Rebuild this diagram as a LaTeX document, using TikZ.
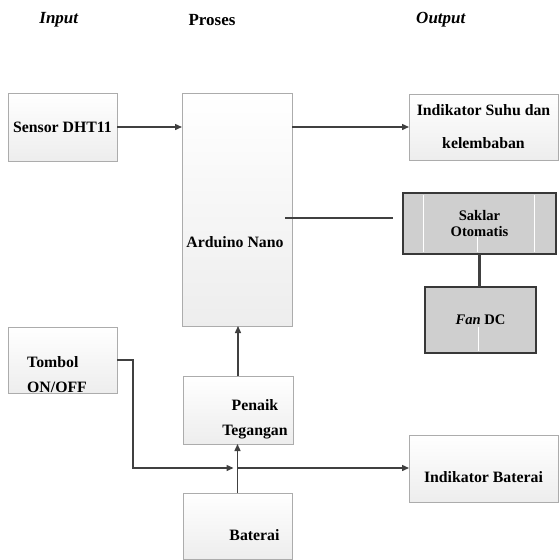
\documentclass[tikz,border=0pt]{standalone}
\usepackage{fontspec}
\setmainfont{Liberation Serif}
\usetikzlibrary{arrows.meta,shadows}

\begin{document}
\begin{tikzpicture}[
        x=1pt, y=-1pt,
        blok/.style={rectangle, draw=gray!65, line width=0.9pt, top color=white, bottom color=gray!14, anchor=north west, inner sep=0pt, outer sep=0pt, font=\fontsize{15.8}{25}\selectfont\bfseries, drop shadow={shadow xshift=1.2pt, shadow yshift=-1.2pt, fill=gray!70, opacity=0.5}},
        gelap/.style={rectangle, draw=black!78, line width=2.5pt, fill=gray!38, anchor=north west, inner sep=0pt, outer sep=0pt, font=\fontsize{14.6}{16.5}\selectfont\bfseries},
        teks/.style={font=\fontsize{15.8}{25}\selectfont\bfseries, inner sep=0pt, align=center},
        judul/.style={font=\fontsize{17}{20}\selectfont\bfseries},
        arrow/.style={-{Triangle[length=7pt,width=6pt]}, line width=1.4pt, gray!50!black},
        garis/.style={line width=2.5pt, black!75},
        celah/.style={white, line width=0.8pt}
    ]
    \useasboundingbox (0,0) rectangle (560,560);

    % Judul kolom
    \node[judul] (jin) at (59,20) {\textit{Input}};
    \node[judul] (jpro) at (212,20) {Proses};
    \node[judul] (jout) at (441,20) {\textit{Output}};

    % Input
    \node[blok, minimum width=109pt, minimum height=68pt] (sensor) at (8,93) {Sensor DHT11};
    \node[blok, minimum width=109pt, minimum height=66pt, label={[teks, align=left, anchor=west, xshift=19pt, yshift=-15pt]west:Tombol\\ON/OFF}] (tombol) at (8,327) {};

    % Proses
    \node[blok, minimum width=110pt, minimum height=233pt, label={[teks, xshift=-2pt, yshift=-33pt]center:Arduino Nano}] (arduino) at (182,93) {};
    \node[blok, minimum width=110pt, minimum height=68pt, label={[teks, xshift=17pt, yshift=-9pt]center:Penaik\\Tegangan}] (penaik) at (183,376) {};
    \node[blok, minimum width=109pt, minimum height=66pt, label={[teks, xshift=17pt, yshift=-9pt]center:Baterai}] (baterai) at (183,493) {};

    % Output
    \node[blok, minimum width=149pt, minimum height=66pt, align=center] (suhu) at (409,94) {Indikator Suhu dan\\[8pt]kelembaban};
    \node[gelap, minimum width=153pt, minimum height=61pt, align=center] (saklar) at (403,193) {Saklar\\Otomatis};
    \node[gelap, minimum width=111pt, minimum height=66pt] (fan) at (425,287) {\textit{Fan} DC};
    \node[blok, minimum width=149pt, minimum height=67pt, label={[teks, yshift=-9pt]center:Indikator Baterai}] (indbat) at (409,435) {};

    % celah putih
    \draw[celah] (423,195) -- (423,252);
    \draw[celah] (534,195) -- (534,252);
    \draw[celah] (477,237) -- (477,252);
    \draw[celah] (478,327) -- (478,351);

    % Panah
    \draw[arrow] (sensor.east) -- (sensor.east -| arduino.west);
    \draw[arrow] (suhu.west -| arduino.east) -- (suhu.west);
    \coordinate (nano) at (285,218);
    \coordinate (ujung) at (393,218);
    \draw[garis] (nano) -- (ujung);
    \draw[garis] (saklar.south) -- (saklar.south |- fan.north);
    \draw[arrow] (penaik.north) -- (penaik.north |- arduino.south);
    \draw[arrow] (baterai.north) -- (baterai.north |- penaik.south);
    \coordinate (belok) at (133,468);
    \draw[arrow] (tombol.east) -| (belok) -- ([xshift=-4pt]belok -| baterai.north);
    \draw[arrow] (belok -| baterai.north) -- (belok -| indbat.west);
\end{tikzpicture}
\end{document}
